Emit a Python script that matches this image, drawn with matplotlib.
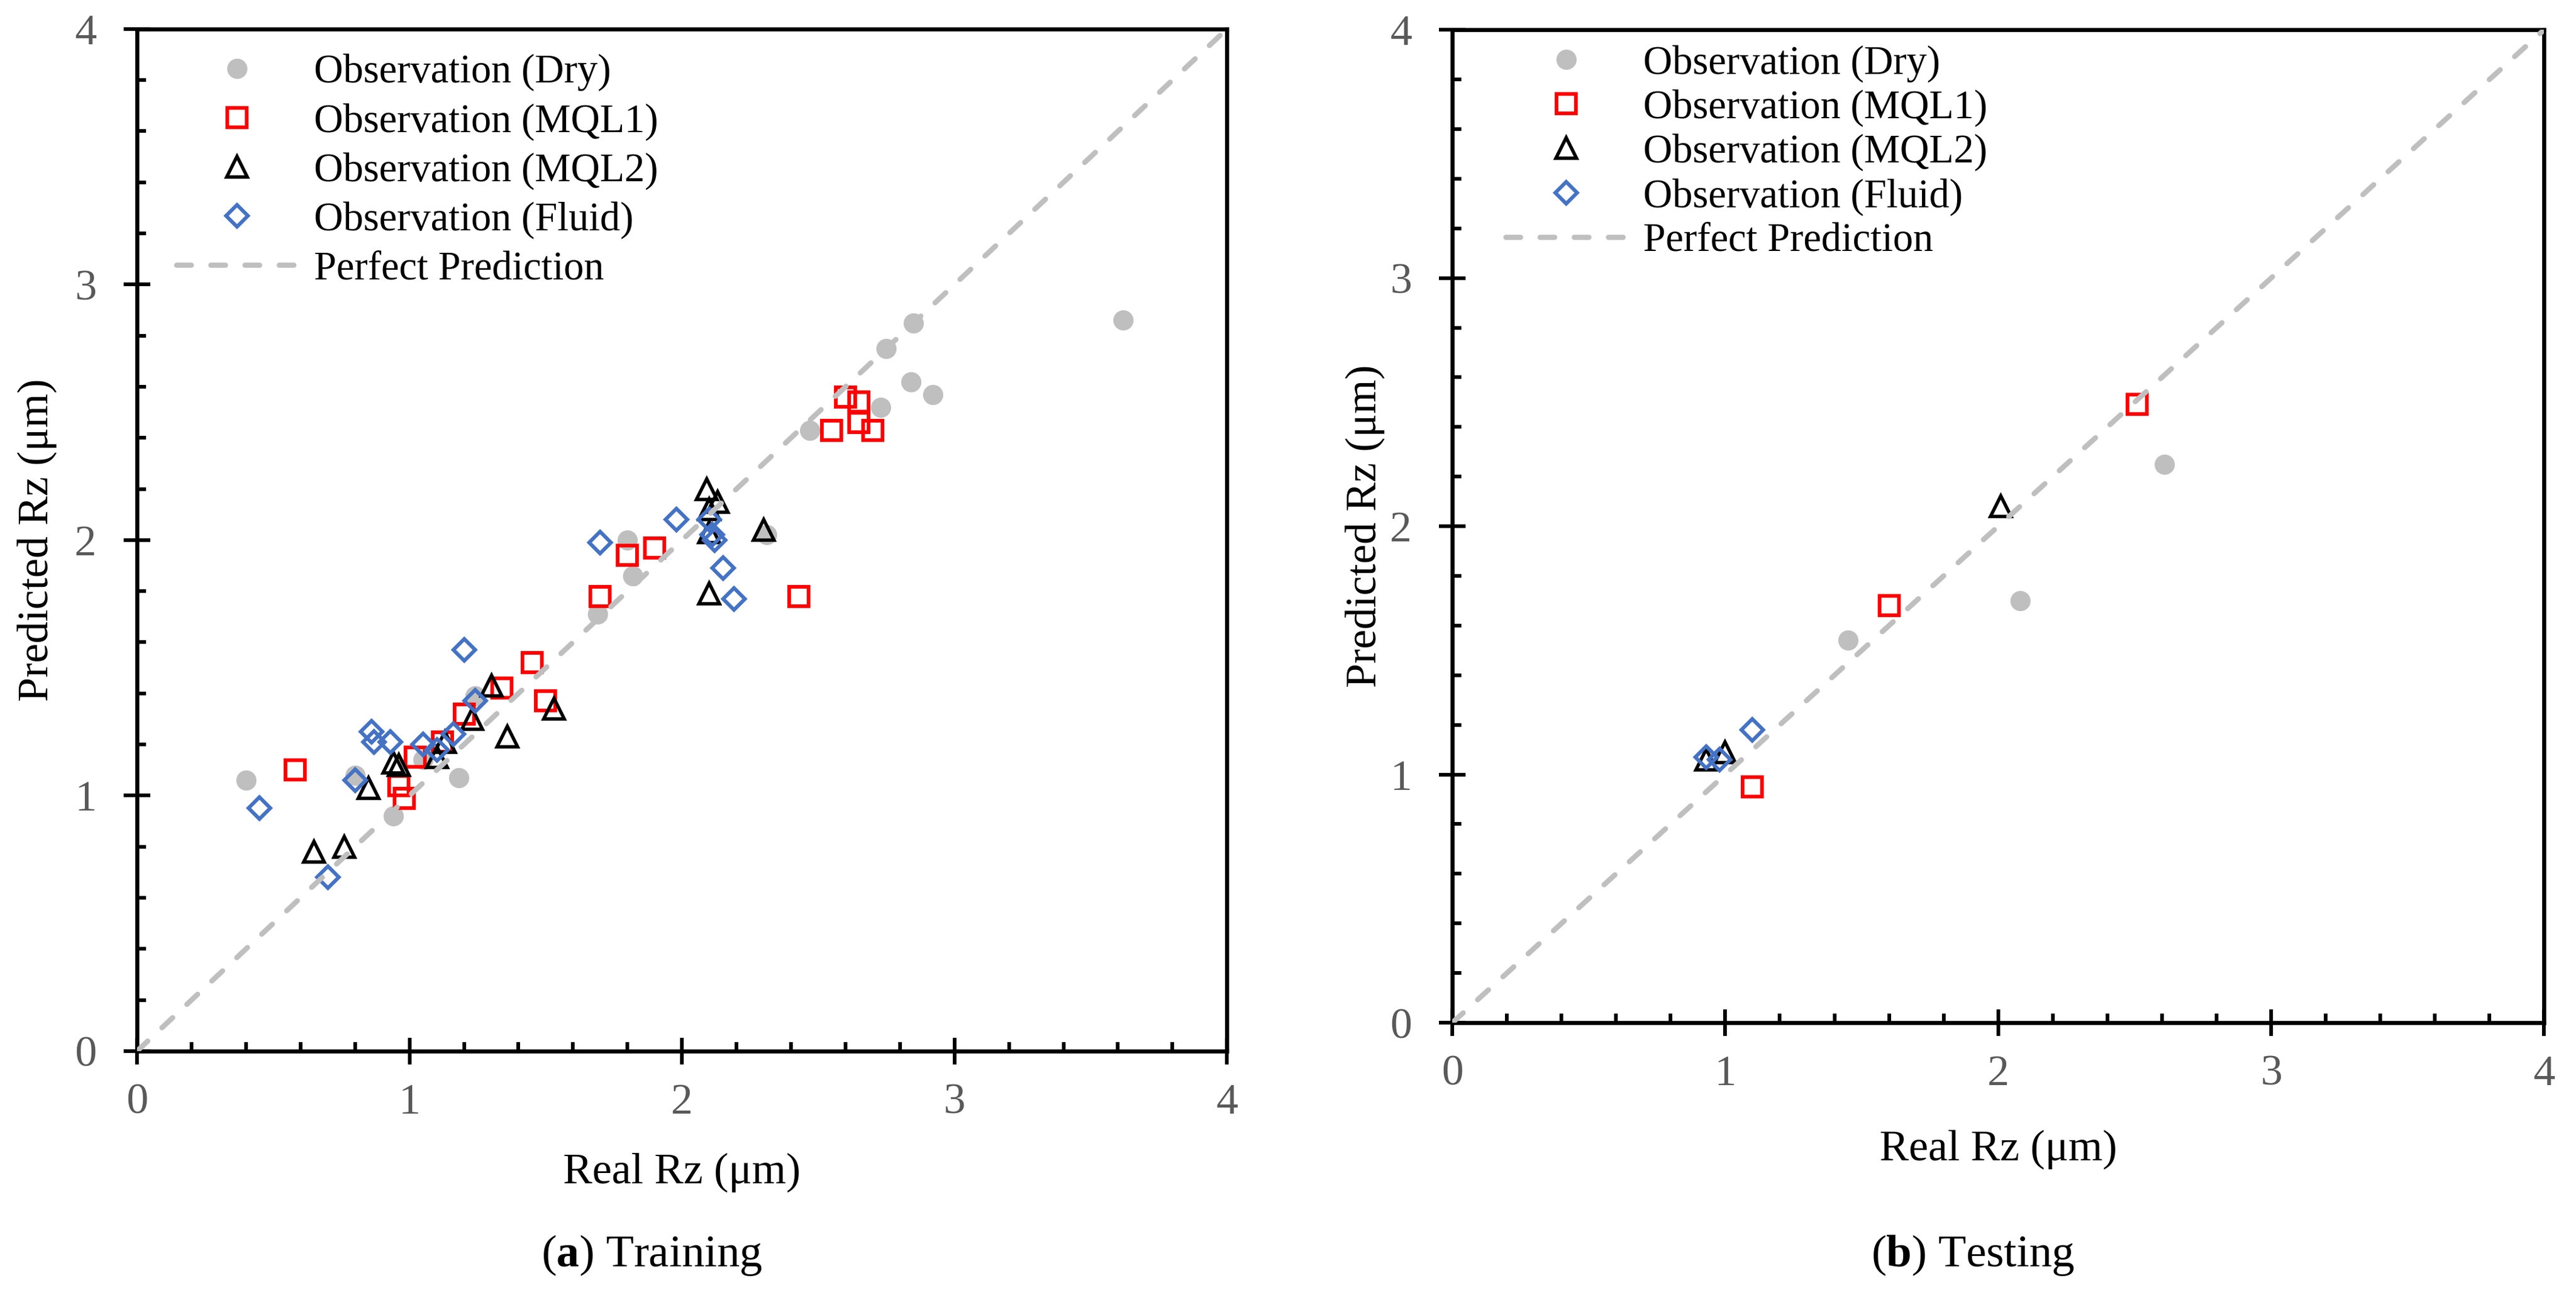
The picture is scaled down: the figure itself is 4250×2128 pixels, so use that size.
import matplotlib
matplotlib.use("Agg")
import matplotlib.pyplot as plt
from matplotlib.ticker import MultipleLocator

plt.rcParams['font.family'] = ['Liberation Serif', 'DejaVu Serif']
plt.rcParams['mathtext.fontset'] = 'custom'
plt.rcParams['mathtext.rm'] = 'Liberation Serif'
plt.rcParams['mathtext.bf'] = 'Liberation Serif:bold'

# training set: real vs predicted Rz
train_dry_x = [0.40, 0.80, 0.94, 1.05, 1.18, 1.24, 1.69, 1.80, 1.82, 2.31, 2.47, 2.73, 2.75, 2.84, 2.85, 2.92, 3.62]
train_dry_y = [1.06, 1.08, 0.92, 1.14, 1.07, 1.39, 1.71, 2.00, 1.86, 2.02, 2.43, 2.52, 2.75, 2.62, 2.85, 2.57, 2.86]
train_mql1_x = [0.58, 0.96, 0.98, 1.02, 1.12, 1.20, 1.34, 1.45, 1.50, 1.70, 1.80, 1.90, 2.43, 2.55, 2.60, 2.65, 2.65, 2.70]
train_mql1_y = [1.10, 1.04, 0.99, 1.15, 1.21, 1.32, 1.42, 1.52, 1.37, 1.78, 1.94, 1.97, 1.78, 2.43, 2.56, 2.54, 2.46, 2.43]
train_mql2_x = [0.65, 0.76, 0.85, 0.94, 0.96, 1.10, 1.13, 1.23, 1.30, 1.36, 1.53, 2.09, 2.13, 2.10, 2.10, 2.10, 2.30]
train_mql2_y = [0.78, 0.80, 1.03, 1.13, 1.12, 1.15, 1.21, 1.30, 1.43, 1.23, 1.34, 2.20, 2.15, 2.12, 2.03, 1.79, 2.04]
train_fluid_x = [0.45, 0.70, 0.80, 0.86, 0.87, 0.93, 1.05, 1.10, 1.16, 1.20, 1.24, 1.70, 1.98, 2.10, 2.11, 2.12, 2.15, 2.19]
train_fluid_y = [0.95, 0.68, 1.06, 1.25, 1.21, 1.21, 1.20, 1.18, 1.24, 1.57, 1.37, 1.99, 2.08, 2.08, 2.02, 2.00, 1.89, 1.77]

# testing set
test_dry_x = [1.45, 2.08, 2.61]
test_dry_y = [1.54, 1.70, 2.25]
test_mql1_x = [1.10, 1.60, 2.51]
test_mql1_y = [0.95, 1.68, 2.49]
test_mql2_x = [0.93, 1.00, 2.01]
test_mql2_y = [1.06, 1.09, 2.08]
test_fluid_x = [0.93, 0.98, 1.10]
test_fluid_y = [1.07, 1.06, 1.18]

labels = ['Observation (Dry)', 'Observation (MQL1)', 'Observation (MQL2)',
          'Observation (Fluid)', 'Perfect Prediction']
axis_lims = [0, 4]

styles = [
    dict(marker='o', ms=12, mfc='#BFBFBF', mec='#BFBFBF', mew=0),
    dict(marker='s', ms=11.8, mfc='none', mec='#FF0000', mew=2.2),
    dict(marker='^', ms=12, mfc='none', mec='black', mew=2.0),
    dict(marker='D', ms=9, mfc='none', mec='#4472C4', mew=2.2),
]


def draw_panel(ax, series, legend_xy, spacing, xlabel_y, ylabel_x):
    handles = []
    for (xs, ys), st, lab in zip(series, styles, labels):
        h, = ax.plot(xs, ys, ls='none', label=lab, zorder=3, **st)
        handles.append(h)
    line, = ax.plot(axis_lims, axis_lims, color='#BFBFBF', lw=3.1, ls=(0, (2.8, 3.75)),
                    dash_capstyle='round', label=labels[4], zorder=4)
    handles.append(line)

    ax.set_xlim(axis_lims)
    ax.set_ylim(axis_lims)
    ax.xaxis.set_major_locator(MultipleLocator(1))
    ax.yaxis.set_major_locator(MultipleLocator(1))
    ax.xaxis.set_minor_locator(MultipleLocator(0.2))
    ax.yaxis.set_minor_locator(MultipleLocator(0.2))
    ax.tick_params(which='major', direction='inout', length=16, width=2.2,
                   labelsize=26, labelcolor='#595959')
    ax.tick_params(which='minor', direction='in', length=5.5, width=2.2)
    ax.tick_params(axis='x', which='major', pad=11)
    ax.tick_params(axis='y', which='major', pad=16)
    for sp in ax.spines.values():
        sp.set_linewidth(2.4)

    ax.set_xlabel('Real Rz (μm)', fontsize=26)
    ax.set_ylabel('Predicted Rz (μm)', fontsize=26)
    ax.xaxis.set_label_coords(0.5, xlabel_y)
    ax.xaxis.label.set_va('center')
    ax.yaxis.set_label_coords(ylabel_x, 0.5)
    ax.yaxis.label.set_va('center')

    ax.legend(handles=handles, loc='upper left', bbox_to_anchor=legend_xy,
              frameon=False, fontsize=24, handlelength=3.0, handletextpad=0.4,
              labelspacing=spacing, borderpad=0, borderaxespad=0, numpoints=1)


fig = plt.figure(figsize=(21.25, 10.64), dpi=200)
ax1 = fig.add_axes([0.0532, 0.1852, 0.4231, 0.7923])
ax2 = fig.add_axes([0.5638, 0.2072, 0.4238, 0.7697])

draw_panel(ax1, [(train_dry_x, train_dry_y), (train_mql1_x, train_mql1_y),
                 (train_mql2_x, train_mql2_y), (train_fluid_x, train_fluid_y)],
           (0.036, 0.976), 0.29, -0.1186, -0.092)
draw_panel(ax2, [(test_dry_x, test_dry_y), (test_mql1_x, test_mql1_y),
                 (test_mql2_x, test_mql2_y), (test_fluid_x, test_fluid_y)],
           (0.049, 0.985), 0.17, -0.1276, -0.080)

fig.text(0.253, 0.027, r'($\mathbf{a}$) Training', fontsize=27, ha='center', va='center')
fig.text(0.766, 0.027, r'($\mathbf{b}$) Testing', fontsize=27, ha='center', va='center')

fig.savefig('out.png', dpi=200)
